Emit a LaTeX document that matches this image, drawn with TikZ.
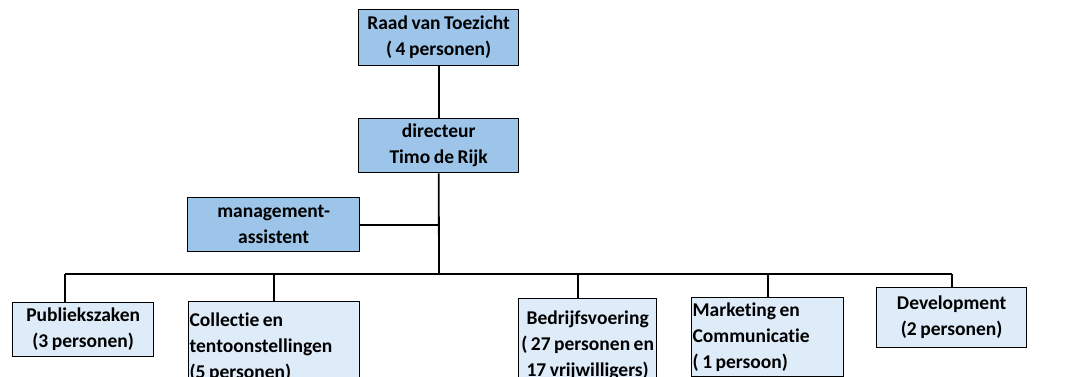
\documentclass[tikz,border=0pt]{standalone}
\usepackage{fontspec}
\setmainfont{Carlito}[RawFeature=-liga, WordSpace=0.8]
\usepackage{tikz}
\usetikzlibrary{calc}
\definecolor{topblue}{RGB}{157,197,233}
\definecolor{lowblue}{RGB}{222,235,248}
\tikzstyle{boss} = [rectangle, anchor=north west, inner sep=1pt, draw=black, line width=1.3pt, fill=topblue, align=center, font=\bfseries\fontsize{19.5}{26}\selectfont]
\tikzstyle{dept} = [rectangle, anchor=north west, inner sep=1pt, draw=black, line width=1.3pt, fill=lowblue, font=\bfseries\fontsize{19.5}{26}\selectfont]
\tikzstyle{line} = [line width=1.8pt]

\begin{document}
\begin{tikzpicture}[x=1pt, y=-1pt]
\useasboundingbox (0,0) rectangle (1086,376);
\node (raad) [boss, minimum width=160pt, minimum height=56pt] at (358,9) {Raad van Toezicht\\( 4 personen)};
\node (dir) [boss, minimum width=160pt, minimum height=54pt] at (358,118) {directeur\\Timo de Rijk};
\node (mgmt) [boss, minimum width=172pt, minimum height=54pt] at (187,197) {management-\\assistent};
\node (publiek) [dept, align=center, minimum width=141pt, minimum height=54pt] at (12,302) {Publiekszaken\\(3 personen)};
\node (collectie) [dept, text width=169pt, align=flush left, inner ysep=11pt] at (188,301) {Collectie en\\tentoonstellingen\\(5 personen)};
\node (bedrijf) [dept, align=center, minimum width=138pt, inner ysep=12pt] at (518,298) {Bedrijfsvoering\\( 27 personen en\\17 vrijwilligers)};
\node (marketing) [dept, text width=150pt, align=flush left, inner ysep=5pt] at (691,297) {Marketing en\\Communicatie\\( 1 persoon)};
\node (develop) [dept, align=center, minimum width=150pt, minimum height=60pt] at (876,287) {Development\\(2 personen)};
\coordinate (bar) at (439,274);
\coordinate (barL) at (65,274);
\coordinate (barR) at (952,274);
\coordinate (barB) at (578,274);
\draw [line] (raad) -- (dir);
\draw [line] (dir) -- (bar);
\draw [line] (mgmt.east) -- (mgmt.east -| bar);
\draw [line] (barL) -- (barR);
\draw [line] (barL) -- (barL |- publiek.north);
\draw [line] (collectie.north) -- (collectie.north |- bar);
\draw [line] (barB) -- (barB |- bedrijf.north);
\draw [line] (marketing.north) -- (marketing.north |- bar);
\draw [line] (develop.north) -- (develop.north |- bar);
\end{tikzpicture}
\end{document}
